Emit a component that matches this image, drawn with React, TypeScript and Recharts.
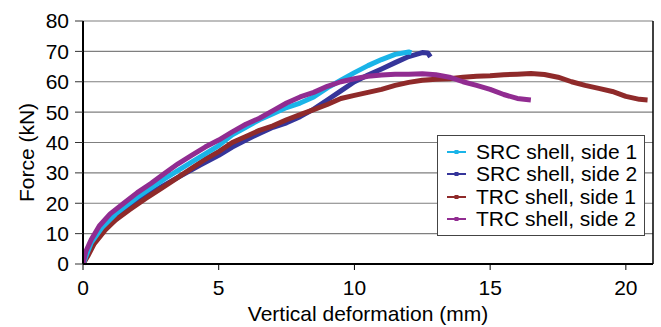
import {
  LineChart,
  Line,
  XAxis,
  YAxis,
  CartesianGrid,
  Legend,
  ReferenceLine,
  Label,
} from 'recharts';

const FONT = '"Liberation Sans", Arial, Helvetica, sans-serif';

const xTicks = [0, 5, 10, 15, 20];
const yTicks = [0, 10, 20, 30, 40, 50, 60, 70, 80];

// SRC shell, side 1
const src1Def = [0, 0.3, 0.7, 1.2, 2, 3, 4, 5, 5.5, 6, 6.5, 7, 7.5, 8, 8.5, 9, 9.5, 10, 10.5, 11, 11.5, 12, 12.1];
const src1Force = [0, 7, 12, 16.5, 22, 28, 33.5, 39, 42.5, 45, 47.5, 49.5, 51.5, 53, 55, 58, 60.5, 63, 65.3, 67.3, 69, 69.8, 69.5];

// SRC shell, side 2
const src2Def = [0, 0.3, 0.8, 1.5, 2.5, 3.5, 4.3, 5, 5.5, 6, 6.5, 7, 7.5, 8, 8.5, 9, 9.5, 10, 10.5, 11, 11.5, 12, 12.5, 12.7, 12.8];
const src2Force = [0, 6.5, 11.5, 17, 23.5, 28.5, 32.5, 35.8, 38.5, 40.8, 43, 45, 46.5, 48.5, 51, 54, 57, 60, 62.2, 64.2, 66.3, 68.3, 69.6, 69.5, 68.2];

// TRC shell, side 1
const trc1Def = [0, 0.2, 0.4, 0.8, 1.2, 1.7, 2.3, 2.9, 3.5, 4, 4.5, 5, 5.5, 6, 6.5, 7, 7.5, 8, 8.5, 9, 9.5, 10, 10.5, 11, 11.5, 12, 12.5, 13, 13.5, 14, 14.5, 15, 15.5, 16, 16.5, 17, 17.5, 18, 18.5, 19, 19.5, 20, 20.5, 20.8];
const trc1Force = [0, 3, 6.5, 11, 14.5, 17.8, 21.5, 25, 28.5, 31.5, 34.5, 37, 40, 42, 44, 45.5, 47.5, 49.2, 50.8, 52.5, 54.5, 55.5, 56.5, 57.5, 58.8, 59.8, 60.5, 60.8, 61, 61.5, 61.8, 62, 62.3, 62.5, 62.7, 62.4, 61.5, 60, 58.8, 57.8, 56.8, 55.2, 54.2, 54];

// TRC shell, side 2
const trc2Def = [0, 0.1, 0.3, 0.6, 1, 1.5, 2, 2.5, 3, 3.5, 4, 4.5, 5, 5.5, 6, 6.5, 7, 7.5, 8, 8.5, 9, 9.5, 10, 10.5, 11, 11.5, 12, 12.5, 13, 13.5, 14, 14.5, 15, 15.5, 16, 16.5];
const trc2Force = [0, 4, 8, 12.5, 16.5, 20, 23.5, 26.5, 29.8, 33, 35.8, 38.5, 40.8, 43.5, 46, 48, 50.5, 53, 55, 56.5, 58.5, 60, 61, 61.8, 62.2, 62.5, 62.5, 62.6, 62.3, 61.5, 60, 58.8, 57.5, 55.8, 54.5, 54];

const toPoints = (def: number[], force: number[]) =>
  def.map((x, i) => ({ x, f: force[i] }));

const series = [
  { name: 'SRC shell, side 1', color: '#1ab4e8', data: toPoints(src1Def, src1Force) },
  { name: 'SRC shell, side 2', color: '#35359a', data: toPoints(src2Def, src2Force) },
  { name: 'TRC shell, side 1', color: '#8f2a2a', data: toPoints(trc1Def, trc1Force) },
  { name: 'TRC shell, side 2', color: '#912c91', data: toPoints(trc2Def, trc2Force) },
];

// drawing order: last one ends up on top
const drawOrder = [1, 2, 0, 3];

const LegendBox = () => (
  <div
    style={{
      border: '1.5px solid #444',
      background: '#fff',
      padding: '5px 0 5px 9px',
      fontFamily: FONT,
      fontSize: 21,
      color: '#000',
    }}
  >
    {series.map((s) => (
      <div
        key={s.name}
        style={{ display: 'flex', alignItems: 'center', height: 22.3, whiteSpace: 'nowrap' }}
      >
        <svg width={19} height={8} style={{ marginRight: 10 }}>
          <line x1={0} y1={4} x2={19} y2={4} stroke={s.color} strokeWidth={2} />
          <rect x={7.5} y={2} width={4} height={4} fill={s.color} />
        </svg>
        <span>{s.name}</span>
      </div>
    ))}
  </div>
);

const YTitle = ({ viewBox }: { viewBox?: { x: number; y: number; width: number; height: number } }) => {
  if (!viewBox) return null;
  const x = 26;
  const y = viewBox.y + viewBox.height / 2 + 10;
  return (
    <text
      x={x}
      y={y}
      transform={`rotate(-90, ${x}, ${y})`}
      textAnchor="middle"
      dominantBaseline="central"
      fontFamily={FONT}
      fontSize={21}
      fill="#000"
    >
      Force (kN)
    </text>
  );
};

export default function App() {
  return (
    <div style={{ position: 'absolute', left: 0, top: 0, background: '#fff' }}>
      <LineChart width={661} height={327} margin={{ top: 21, right: 8, bottom: 0, left: 0 }}>
        <CartesianGrid vertical={false} stroke="#7f7f7f" strokeWidth={1.2} />
        <XAxis
          type="number"
          dataKey="x"
          domain={[0, 21]}
          ticks={xTicks}
          allowDataOverflow
          height={63}
          axisLine={{ stroke: '#000', strokeWidth: 2 }}
          tickLine={{ stroke: '#000', strokeWidth: 1 }}
          tickSize={6}
          tickMargin={10}
          tick={{ fontFamily: FONT, fontSize: 21, fill: '#000' }}
          label={{
            value: 'Vertical deformation (mm)',
            position: 'insideBottom',
            offset: 6,
            style: { fontFamily: FONT, fontSize: 21, fill: '#000' },
          }}
        />
        <YAxis
          type="number"
          domain={[0, 80]}
          ticks={yTicks}
          width={83}
          axisLine={{ stroke: '#000', strokeWidth: 2 }}
          tickLine={{ stroke: '#333', strokeWidth: 1 }}
          tickSize={8}
          tickMargin={6}
          tick={{ fontFamily: FONT, fontSize: 21, fill: '#000' }}
        >
          <Label content={<YTitle />} />
        </YAxis>
        <ReferenceLine x={21} stroke="#000" strokeWidth={1.5} />
        {drawOrder.map((i) => (
          <Line
            key={series[i].name}
            data={series[i].data}
            dataKey="f"
            name={series[i].name}
            type="linear"
            stroke={series[i].color}
            strokeWidth={5}
            strokeLinejoin="round"
            dot={false}
            activeDot={false}
            isAnimationActive={false}
          />
        ))}
        <Legend
          layout="vertical"
          align="center"
          verticalAlign="middle"
          content={<LegendBox />}
          wrapperStyle={{ left: 437, top: 135, width: 208 }}
        />
      </LineChart>
    </div>
  );
}
